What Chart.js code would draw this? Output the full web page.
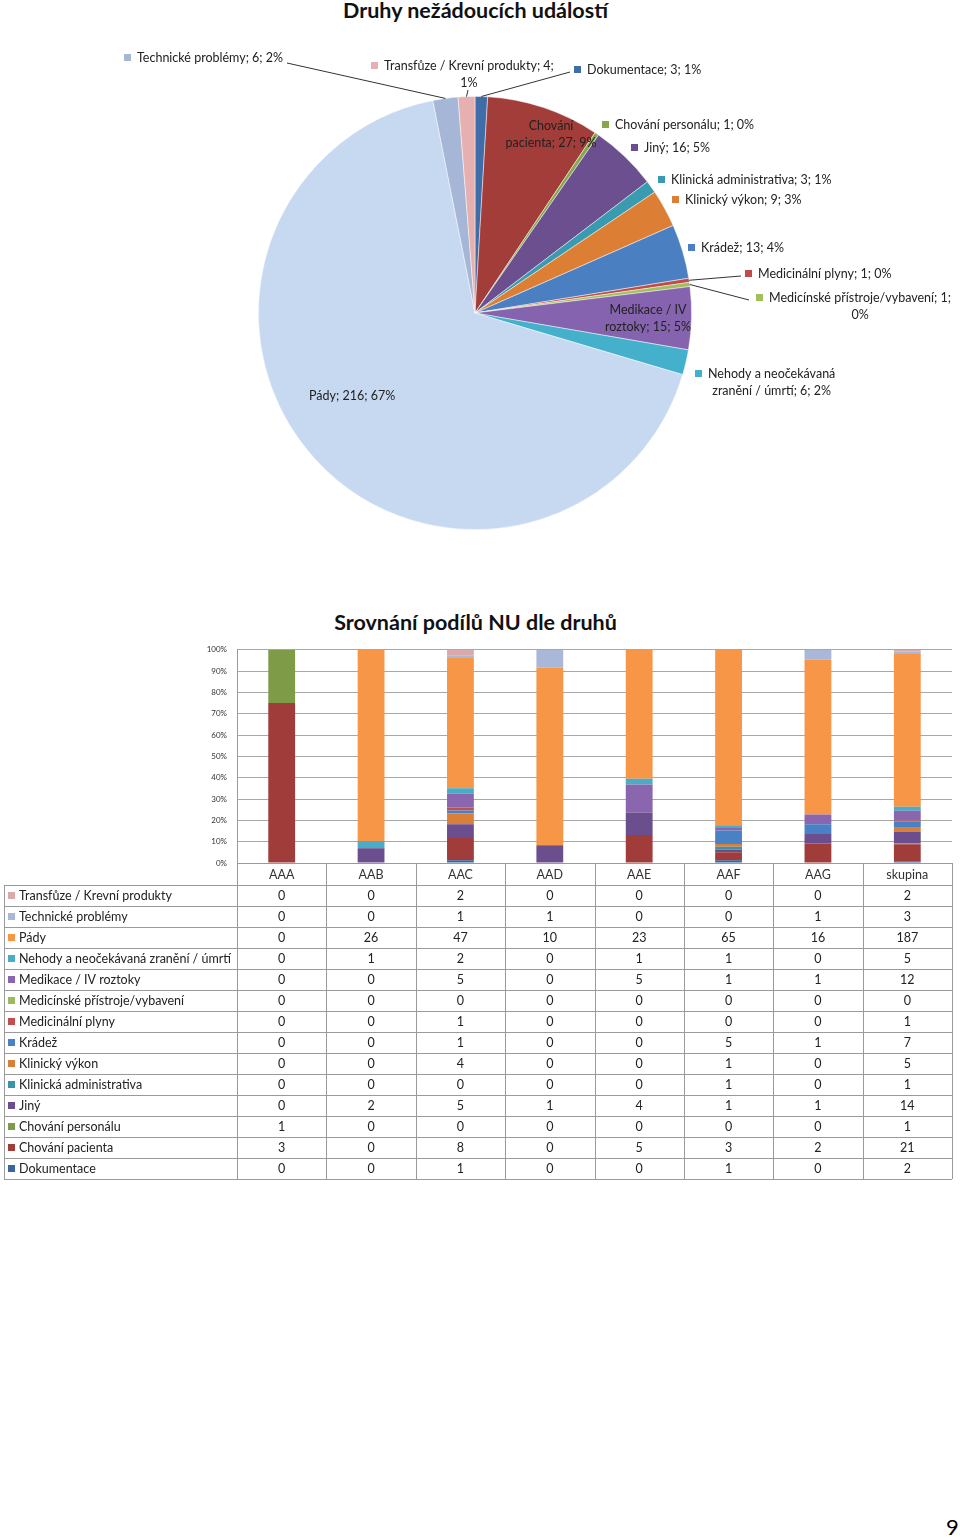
<!DOCTYPE html>
<html>
<head>
<meta charset="utf-8">
<script src="https://cdn.jsdelivr.net/npm/chart.js@4/dist/chart.umd.min.js"></script>
<style>
  body { margin:0; background:#fff; width:960px; height:1539px; position:relative; overflow:hidden; font-family:Lato, sans-serif; }
  .title { position:absolute; left:0; width:951px; text-align:center; font-weight:bold; font-size:21.5px; line-height:24px; color:#111; }
  #pie-wrap { position:absolute; left:0; top:0; width:960px; height:600px; }
  #bar-wrap { position:absolute; left:0; top:635px; width:960px; height:550px; }
  .page-no { position:absolute; left:946px; top:1513px; font-size:22px; color:#000; }
</style>
</head>
<body>
<div class="title" style="top:-2px">Druhy nežádoucích událostí</div>
<div id="pie-wrap"><canvas id="chart-pie"></canvas></div>

<div class="title" style="top:610px">Srovnání podílů NU dle druhů</div>
<div id="bar-wrap"><canvas id="chart-bar"></canvas></div>

<div class="page-no">9</div>

<script>
// ── Data ─────────────────────────────────────
const types = [
  'Dokumentace', 'Chování pacienta', 'Chování personálu', 'Jiný',
  'Klinická administrativa', 'Klinický výkon', 'Krádež', 'Medicinální plyny',
  'Medicínské přístroje/vybavení', 'Medikace / IV roztoky',
  'Nehody a neočekávaná zranění / úmrtí', 'Pády', 'Technické problémy',
  'Transfůze / Krevní produkty'
];
const pieValues = [3, 27, 1, 16, 3, 9, 13, 1, 1, 15, 6, 216, 6, 4];
const pieShares = [1, 9, 0, 5, 1, 3, 4, 0, 0, 5, 2, 67, 2, 1];

const units = ['AAA', 'AAB', 'AAC', 'AAD', 'AAE', 'AAF', 'AAG', 'skupina'];
// one row per type, same order as `types`
const dokumentace   = [0, 0, 1, 0, 0, 1, 0, 2];
const chovPacienta  = [3, 0, 8, 0, 5, 3, 2, 21];
const chovPersonalu = [1, 0, 0, 0, 0, 0, 0, 1];
const jiny          = [0, 2, 5, 1, 4, 1, 1, 14];
const klinAdmin     = [0, 0, 0, 0, 0, 1, 0, 1];
const klinVykon     = [0, 0, 4, 0, 0, 1, 0, 5];
const kradez        = [0, 0, 1, 0, 0, 5, 1, 7];
const medPlyny      = [0, 0, 1, 0, 0, 0, 0, 1];
const medPristroje  = [0, 0, 0, 0, 0, 0, 0, 0];
const medikace      = [0, 0, 5, 0, 5, 1, 1, 12];
const nehody        = [0, 1, 2, 0, 1, 1, 0, 5];
const pady          = [0, 26, 47, 10, 23, 65, 16, 187];
const technicke     = [0, 0, 1, 1, 0, 0, 1, 3];
const transfuze     = [0, 0, 2, 0, 0, 0, 0, 2];
const counts = [dokumentace, chovPacienta, chovPersonalu, jiny, klinAdmin, klinVykon,
  kradez, medPlyny, medPristroje, medikace, nehody, pady, technicke, transfuze];

const yTicks = [0, 10, 20, 30, 40, 50, 60, 70, 80, 90, 100];

// ── Colours ──────────────────────────────────
const pieColors = ['#3f6da8', '#a33d3a', '#86a84a', '#6b4f8e', '#3a9ab0', '#dd7e35', '#4a7fc2',
  '#c24a48', '#9fc05a', '#8663ae', '#45b0cb', '#c6d9f1', '#a6b6d6', '#e6b0b0'];
const barColors = ['#3a66a0', '#a03c3a', '#7e9c48', '#6b4e8e', '#3a94a8', '#d8803a', '#4a80c4',
  '#c0504d', '#9bbb59', '#8a66ae', '#4aadc8', '#f79646', '#a9b8d9', '#d9aaaa'];

const FONT = 'Lato, "Noto Sans", sans-serif';
Chart.defaults.font.family = FONT;
Chart.defaults.color = '#333';
Chart.defaults.animation = false;

// ── Pie labels (placement of callouts) ───────
// x/y = text start + first line centre; cx = centred label inside the slice
const pieLabelPos = [
  { x: 587, y: 70, lead: [570, 72] },
  { cx: 551, y: 126, inside: true, split: 'Chování' },
  { x: 615, y: 125 },
  { x: 644, y: 148 },
  { x: 671, y: 180 },
  { x: 685, y: 200 },
  { x: 701, y: 248 },
  { x: 758, y: 274, lead: [741, 276] },
  { x: 769, y: 298, lead: [749, 300], wrapAfter: '1;' },
  { cx: 648, y: 310, inside: true, split: 'Medikace / IV' },
  { x: 708, y: 374, wrapAfter: 'neočekávaná' },
  { x: 309, y: 396, inside: true },
  { x: 137, y: 58, lead: [287, 63] },
  { x: 384, y: 66, lead: [468, 90], wrapAfter: '4;' }
];

function pieLabelText(i) {
  return `${types[i]}; ${pieValues[i]}; ${pieShares[i]}%`;
}

const pieLabelsPlugin = {
  id: 'pieLabels',
  afterDraw(chart) {
    const ctx = chart.ctx;
    const arcs = chart.getDatasetMeta(0).data;
    ctx.save();
    ctx.font = `12.5px ${FONT}`;
    ctx.textBaseline = 'middle';
    ctx.strokeStyle = '#333';
    ctx.lineWidth = 1;

    pieLabelPos.forEach((pos, i) => {
      const text = pieLabelText(i);
      const arc = arcs[i].getProps(['x', 'y', 'startAngle', 'endAngle', 'outerRadius'], true);

      // leader line to the slice rim
      if (pos.lead) {
        const mid = (arc.startAngle + arc.endAngle) / 2;
        const ex = arc.x + Math.cos(mid) * arc.outerRadius;
        const ey = arc.y + Math.sin(mid) * arc.outerRadius;
        ctx.beginPath();
        ctx.moveTo(pos.lead[0], pos.lead[1]);
        ctx.lineTo(ex, ey);
        ctx.stroke();
      }

      ctx.fillStyle = '#222';
      if (pos.inside) {
        if (pos.split) {
          ctx.textAlign = 'center';
          ctx.fillText(pos.split, pos.cx, pos.y);
          ctx.fillText(text.slice(pos.split.length + 1), pos.cx, pos.y + 17);
        } else {
          ctx.textAlign = 'left';
          ctx.fillText(text, pos.x, pos.y);
        }
        return;
      }

      // callout with colour key
      ctx.fillStyle = pieColors[i];
      ctx.fillRect(pos.x - 13, pos.y - 4, 7, 7);
      ctx.fillStyle = '#222';
      ctx.textAlign = 'left';
      if (pos.wrapAfter) {
        const cut = text.indexOf(pos.wrapAfter) + pos.wrapAfter.length;
        const first = text.slice(0, cut);
        const second = text.slice(cut).trim();
        const w = ctx.measureText(first).width;
        ctx.fillText(first, pos.x, pos.y);
        ctx.textAlign = 'center';
        ctx.fillText(second, pos.x + w / 2, pos.y + 17);
      } else {
        ctx.fillText(text, pos.x, pos.y);
      }
    });
    ctx.restore();
  }
};

// ── Pie chart ────────────────────────────────
new Chart(document.getElementById('chart-pie'), {
  type: 'pie',
  data: {
    labels: types,
    datasets: [{
      data: pieValues,
      backgroundColor: pieColors,
      borderColor: 'rgba(255,255,255,0.6)',
      borderWidth: 0.8
    }]
  },
  options: {
    responsive: true, maintainAspectRatio: false,
    layout: { padding: { left: 258, right: 268, top: 96, bottom: 70 } },
    plugins: { legend: { display: false }, tooltip: { enabled: false } }
  },
  plugins: [pieLabelsPlugin]
});

// ── Bar chart: 100 % stacked, with data table ──
const colTotals = units.map((_, c) => counts.reduce((s, row) => s + row[c], 0));

const dataTablePlugin = {
  id: 'dataTable',
  afterDraw(chart) {
    const { ctx, chartArea: { left, right, bottom } } = chart;
    const colW = (right - left) / units.length;
    const rowH = 21;
    const top0 = bottom + 22;
    const tableLeft = 4;
    const nRows = types.length;
    const end = top0 + nRows * rowH;

    ctx.save();
    ctx.strokeStyle = '#9a9a9a';
    ctx.lineWidth = 1;
    ctx.beginPath();
    for (let r = 0; r <= nRows; r++) {
      const y = Math.round(top0 + r * rowH) + 0.5;
      ctx.moveTo(tableLeft, y); ctx.lineTo(right, y);
    }
    ctx.moveTo(tableLeft + 0.5, top0); ctx.lineTo(tableLeft + 0.5, end);
    for (let c = 0; c <= units.length; c++) {
      const x = Math.round(left + c * colW) + 0.5;
      ctx.moveTo(x, bottom); ctx.lineTo(x, end);
    }
    ctx.stroke();

    ctx.font = `12.5px ${FONT}`;
    ctx.textBaseline = 'middle';
    // rows listed top-down from last series to first
    for (let r = 0; r < nRows; r++) {
      const s = nRows - 1 - r;
      const yc = top0 + r * rowH + rowH / 2 + 0.5;
      ctx.fillStyle = barColors[s];
      ctx.fillRect(8, yc - 4, 7, 7);
      ctx.fillStyle = '#222';
      ctx.textAlign = 'left';
      ctx.fillText(types[s], 19, yc);
      ctx.textAlign = 'center';
      counts[s].forEach((v, c) => ctx.fillText(String(v), left + (c + 0.5) * colW, yc));
    }
    ctx.restore();
  }
};

new Chart(document.getElementById('chart-bar'), {
  type: 'bar',
  data: {
    labels: units,
    datasets: types.map((t, s) => ({
      label: t,
      data: counts[s].map((v, c) => colTotals[c] ? v / colTotals[c] * 100 : 0),
      backgroundColor: barColors[s],
      borderWidth: 0,
      barPercentage: 0.3,
      categoryPercentage: 1
    }))
  },
  options: {
    responsive: true, maintainAspectRatio: false,
    layout: { padding: { left: 0, right: 8, top: 0, bottom: 0 } },
    plugins: { legend: { display: false }, tooltip: { enabled: false } },
    scales: {
      x: {
        stacked: true,
        grid: { display: false, drawTicks: false },
        border: { display: true, color: '#9a9a9a' },
        ticks: { padding: 4, color: '#333', font: { size: 12.5 } },
        afterFit: s => { s.height = 322; }
      },
      y: {
        stacked: true, min: 0, max: 100,
        afterBuildTicks: s => { s.ticks = yTicks.map(v => ({ value: v })); },
        grid: { color: '#a8a8a8', drawTicks: false },
        border: { display: true, color: '#9a9a9a' },
        ticks: { padding: 10, color: '#333', font: { size: 8 }, callback: v => v + '%' },
        afterFit: s => { s.width = 237; }
      }
    }
  },
  plugins: [dataTablePlugin]
});
</script>
</body>
</html>
